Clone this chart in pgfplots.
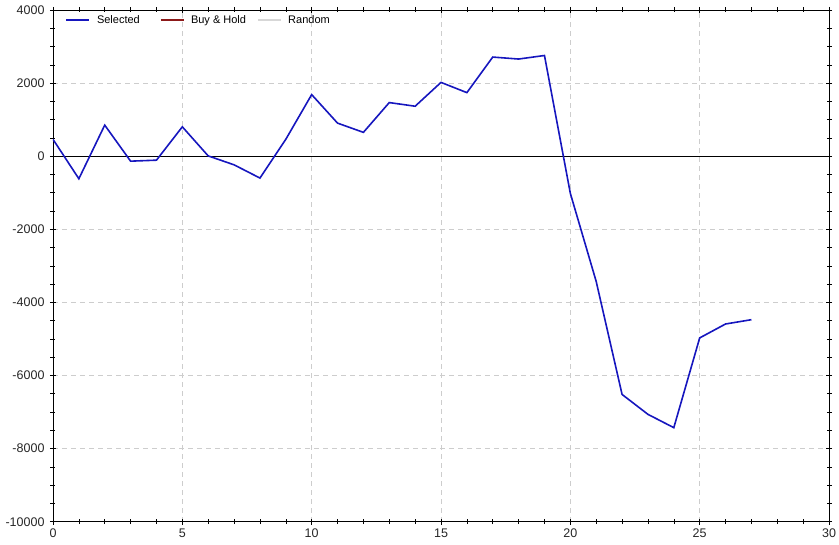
\documentclass[border=0pt]{standalone}
\usepackage{fontspec}
\setmainfont{Liberation Sans}
\usepackage{pgfplots}
\pgfplotsset{compat=1.18}
\definecolor{selblue}{RGB}{22,22,190}
\definecolor{bhred}{RGB}{140,25,25}
\definecolor{rndgray}{RGB}{215,215,215}
\definecolor{gridgray}{RGB}{205,205,205}
\begin{document}
\begin{tikzpicture}
\begin{axis}[
  scale only axis,
  width=776pt, height=511.7pt,
  xmin=0, xmax=30, ymin=-10000, ymax=4000,
  xtick={0,5,...,30},
  ytick={-10000,-8000,...,4000},
  scaled y ticks=false,
  scaled x ticks=false,
  minor x tick num=4,
  minor y tick num=3,
  tick align=center,
  major tick length=6pt,
  minor tick length=5pt,
  every tick/.style={black, line width=0.6pt},
  axis line style={black, line width=0.8pt},
  grid=major,
  major grid style={gridgray, dash pattern=on 5pt off 4pt, line width=0.6pt},
  /pgf/number format/assume math mode=true,
  /pgf/number format/1000 sep={},
  tick label style={font=\fontsize{12.5}{14}\selectfont, text=black!85},
  xticklabel style={yshift=-1pt},
  yticklabel style={xshift=-2pt},
  legend columns=3,
  legend style={at={(rel axis cs:0,1)}, anchor=north west, xshift=9pt, yshift=-1.5pt,
    draw=none, fill=none, font=\fontsize{11}{13}\selectfont,
    /tikz/every even column/.append style={column sep=18pt}},
  legend image code/.code={\draw[#1, line width=2pt] (0pt,0pt) -- (23pt,0pt); \path (28pt,0pt);},
  legend cell align=left,
]
\addplot[black, line width=0.8pt, forget plot] coordinates {(0,0) (30,0)};
\addplot[selblue, line width=1.6pt] coordinates {
(0,462) (1,-617) (2,850) (3,-136) (4,-109) (5,804) (6,8) (7,-236) (8,-598)
(9,462) (10,1685) (11,905) (12,652) (13,1467) (14,1367) (15,2019) (16,1739)
(17,2712) (18,2658) (19,2755) (20,-1017) (21,-3428) (22,-6518) (23,-7063)
(24,-7427) (25,-4972) (26,-4591) (27,-4473)
};
\addlegendentry{Selected}
\addlegendimage{bhred}
\addlegendentry{Buy \& Hold\kern-9pt}
\addlegendimage{rndgray}
\addlegendentry{Random}
\end{axis}
\pgfresetboundingbox
\path[use as bounding box] ([shift={(-53pt,-23.3pt)}]current axis.south west) rectangle ([shift={(10pt,10pt)}]current axis.north east);
\end{tikzpicture}
\end{document}
